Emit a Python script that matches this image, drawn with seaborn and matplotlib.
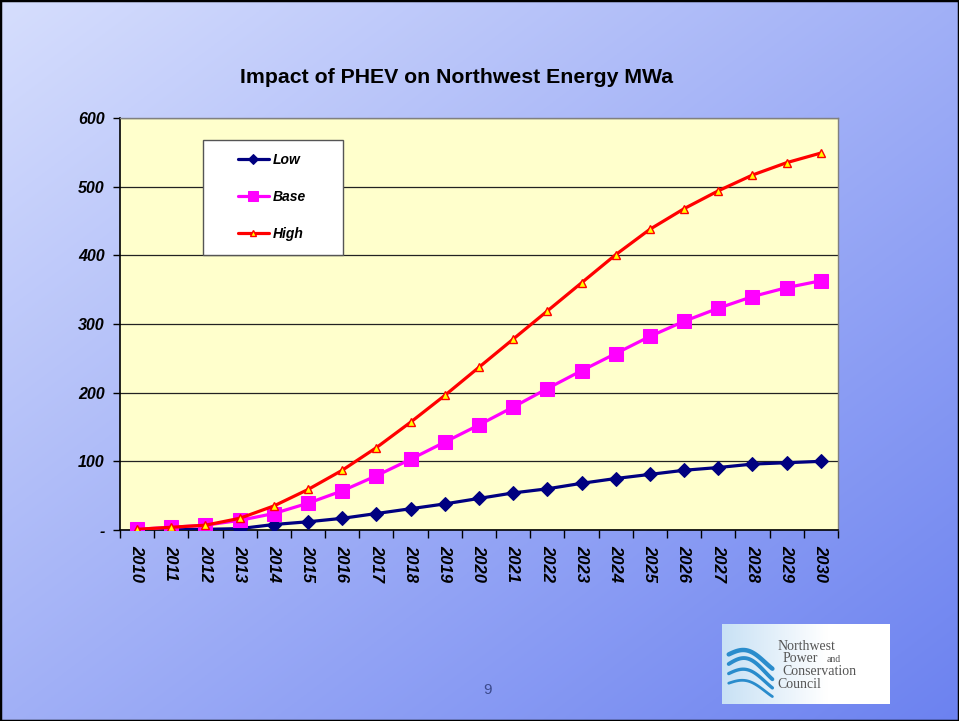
import matplotlib.pyplot as plt
import matplotlib.patches as mpatches
import numpy as np
import pandas as pd
import seaborn as sns

# Dados (MWa por ano)
anos = list(range(2010, 2031))
low = [0, 0.5, 1, 2, 8, 12, 17, 24, 31, 38, 46, 54, 60, 68, 75, 81, 87, 91, 96, 98, 100]
base = [1, 4, 7, 14, 24, 39, 57, 79, 103, 128, 153, 179, 206, 232, 257, 282, 304, 323, 340, 353, 363]
high = [1, 4, 7, 17, 35, 59, 87, 120, 157, 196, 237, 278, 319, 360, 401, 438, 468, 494, 517, 535, 549]
valores_y = [0, 100, 200, 300, 400, 500, 600]
rotulos_y = ["-", "100", "200", "300", "400", "500", "600"]

sns.set_style("white")
plt.rcParams["font.family"] = ["Liberation Sans", "DejaVu Sans"]
plt.rcParams["text.color"] = "black"
plt.rcParams["xtick.color"] = "black"
plt.rcParams["ytick.color"] = "black"

fig = plt.figure(figsize=(9.59, 7.21), dpi=100)

# Fundo em degradê azul
fundo = fig.add_axes([0, 0, 1, 1], zorder=-10)
xx, yy = np.meshgrid(np.linspace(0, 1, 300), np.linspace(0, 1, 300))
t = (xx + yy) / 2
c0 = np.array([214, 222, 253]) / 255
c1 = np.array([108, 130, 240]) / 255
img = c0 + (c1 - c0) * t[..., None]
fundo.imshow(img, extent=[0, 1, 0, 1], aspect="auto", origin="upper")
fundo.axis("off")

# Gráfico principal
ax = fig.add_axes([0.1251, 0.2649, 0.7487, 0.5714])
ax.set_facecolor("#FFFFCC")
tabela = pd.DataFrame({"x": np.arange(len(anos)), "Low": low, "Base": base, "High": high})

sns.lineplot(data=tabela, x="x", y="Low", ax=ax, color="#000080", lw=2.3,
             marker="D", markersize=7, markeredgecolor="#000080",
             markerfacecolor="#000080", label="Low", zorder=3)
sns.lineplot(data=tabela, x="x", y="Base", ax=ax, color="#FF00FF", lw=2.3,
             marker="s", markersize=9.5, markeredgecolor="#FF00FF",
             markerfacecolor="#FF00FF", label="Base", zorder=3)
sns.lineplot(data=tabela, x="x", y="High", ax=ax, color="#FF0000", lw=2.3,
             marker="^", markersize=6, markeredgecolor="#FF0000",
             markerfacecolor="#FFFF00", markeredgewidth=1, label="High", zorder=4)

ax.set_xlim(-0.5, len(anos) - 0.5)
ax.set_ylim(0, 600)
ax.set_xlabel("")
ax.set_ylabel("")

# Eixo x no estilo Excel: marcas entre categorias
ax.set_xticks(np.arange(-0.5, len(anos), 1))
ax.set_xticklabels([])
ax.set_xticks(np.arange(len(anos)), minor=True)
ax.set_xticklabels([str(a) for a in anos], minor=True, rotation=270,
                   fontsize=12, fontweight="bold", fontstyle="italic")
ax.tick_params(axis="x", which="minor", length=0, pad=11)
ax.tick_params(axis="x", which="major", length=6, width=1, direction="out",
               bottom=True, color="black")

ax.set_yticks(valores_y)
ax.set_yticklabels(rotulos_y, fontsize=11.5, fontweight="bold", fontstyle="italic")
ax.tick_params(axis="y", length=5, width=1, direction="out", left=True,
               color="black", pad=6)

ax.yaxis.grid(True, color="#222222", lw=0.9)
ax.xaxis.grid(False)
for lado in ["left", "bottom"]:
    ax.spines[lado].set_color("black")
    ax.spines[lado].set_linewidth(1.2)
for lado in ["top", "right"]:
    ax.spines[lado].set_color("#808080")
    ax.spines[lado].set_linewidth(1)

# Caixa da legenda
caixa = mpatches.Rectangle((0.1156, 0.6675), 0.195, 0.2795, transform=ax.transAxes,
                           facecolor="white", edgecolor="#555555", lw=1, zorder=5)
ax.add_patch(caixa)
leg = ax.legend(loc="upper left", bbox_to_anchor=(0.147, 0.945), frameon=False,
                handlelength=2.2, handletextpad=0.3, labelspacing=1.65,
                prop=dict(weight="bold", style="italic", size=10))
leg.set_zorder(6)
for h, tam in zip(leg.legend_handles, [5, 7, 4.5]):
    h.set_markersize(tam)

# Título e número da página
fig.text(0.4765, 0.893, "Impact of PHEV on Northwest Energy MWa", ha="center",
         va="center", fontsize=15.3, fontweight="bold")
fig.text(487 / 959, 1 - 690 / 721, "9", ha="center", va="center", fontsize=11,
         color="#3c4a8c")

# Logotipo do conselho
logo = fig.add_axes([722 / 959, 1 - 704 / 721, 168 / 959, 80 / 721])
gx = np.linspace(0, 1, 200)
c_ini = np.array([200, 225, 245]) / 255
c_fim = np.array([255, 255, 255]) / 255
grad = c_ini + (c_fim - c_ini) * np.clip(gx * 1.6, 0, 1)[:, None]
logo.imshow(grad[None, :, :], extent=[0, 1, 0, 1], aspect="auto")
logo.set_xlim(0, 1)
logo.set_ylim(0, 1)
logo.axis("off")
azul = "#2a8ccc"
for i, (dy, amp) in enumerate([(0.62, 0.10), (0.50, 0.12), (0.38, 0.10), (0.26, 0.08)]):
    s = np.linspace(0, 1, 50)
    xs = 0.04 + 0.26 * s
    ys = dy + amp * np.sin(np.pi * s * 1.2) - 0.12 * s
    logo.plot(xs, ys, color=azul, lw=3.2 - i * 0.4, solid_capstyle="round")
serif = ["Liberation Serif", "DejaVu Serif"]
logo.text(0.33, 0.72, "Northwest", fontsize=10, family=serif, color="#555555", va="center")
logo.text(0.36, 0.565, "Power", fontsize=10, family=serif, color="#555555", va="center")
logo.text(0.62, 0.56, "and", fontsize=7, family=serif, color="#555555", va="center")
logo.text(0.36, 0.41, "Conservation", fontsize=10, family=serif, color="#555555", va="center")
logo.text(0.33, 0.25, "Council", fontsize=10, family=serif, color="#555555", va="center")

# Borda da figura
fig.patches.append(mpatches.Rectangle((0, 0), 1, 1, transform=fig.transFigure,
                                      fill=False, edgecolor="black", lw=2.5))

fig.savefig("out.png", dpi=100)
